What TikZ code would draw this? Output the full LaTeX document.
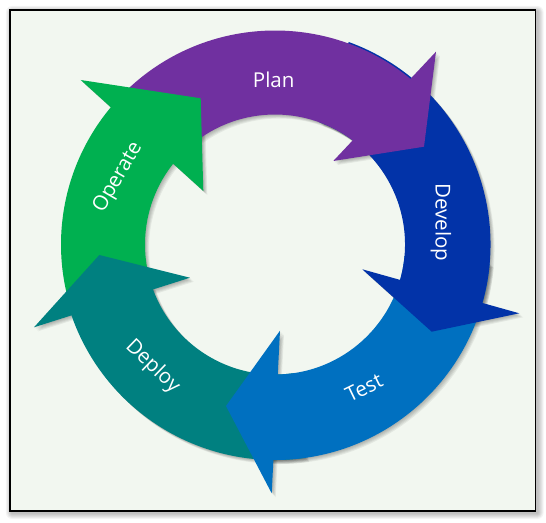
\documentclass[tikz,border=0pt]{standalone}
\usepackage{fontspec}
\setmainfont{Open Sans}
\definecolor{planc}{HTML}{7030A0}
\definecolor{devc}{HTML}{0233A8}
\definecolor{testc}{HTML}{0070C0}
\definecolor{depc}{HTML}{008080}
\definecolor{opc}{HTML}{00B050}
\definecolor{bgc}{HTML}{F2F7F0}
% shaft: tail outer angle, outer end angle, outer radius, inner end angle, inner tail angle
\newcommand{\shaftpath}[5]{(#1:#3) arc[start angle=#1, end angle=#2, radius=#3] -- (#4:130) arc[start angle=#4, end angle=#5, radius=130] -- cycle}
\newcommand{\planshaft}{\shaftpath{136}{49.2}{214}{51.8}{129}}
\newcommand{\devshaft}{\shaftpath{70}{-17.25}{215.5}{-17.3}{70}}
\newcommand{\testshaft}{\shaftpath{-5}{-91.9}{215.5}{-90.3}{-5}}
\newcommand{\depshaft}{\shaftpath{-82}{-162.3}{215.5}{-161.3}{-82}}
\newcommand{\opshaft}{\shaftpath{-164}{-221.4}{214}{-219.9}{-165}}
\newcommand{\planhead}{(161,192.8) -- (149,97.8) -- (58.3,83.5) -- cycle}
\newcommand{\devhead}{(244.3,-68.8) -- (156.7,-87.2) -- (87.3,-24.8) -- cycle}
\newcommand{\testhead}{(-3.3,-248.8) -- (-49,-161.5) -- (5,-86.2) -- cycle}
\newcommand{\dephead}{(-241,-82.8) -- (-175.7,-10.5) -- (-85,-33.2) -- cycle}
\newcommand{\ophead}{(-194.3,164.5) -- (-74.3,146.2) -- (-71.7,53.5) -- cycle}
\begin{document}
\begin{tikzpicture}[x=1pt,y=1pt,
  lbl/.style={text=white, font=\fontsize{20.5}{24}\selectfont, inner sep=0pt},
  frameshadow/.style={black, opacity=0.045},
  arrowshadow/.style={black, opacity=0.06}]
\useasboundingbox (-275,-277.5) rectangle (271,244.5);
\fill[white] (-275,-277.5) rectangle (271,244.5);
% frame shadow
\foreach \i in {1,...,6}
  \fill[frameshadow, rounded corners=\i pt] (-263-\i,-268.5-\i) rectangle (262.5+\i,232.5+\i);
\fill[bgc] (-265,-266.5) rectangle (260.5,234.5);
\draw[black, line width=1.2pt] (-265,-266.5) rectangle (260.5,234.5);
% arrow shadows
\foreach \s in {0.8,1.6,2.4,3.2,4}{
  \begin{scope}[shift={(\s,-\s)}]
    \fill[arrowshadow] \planshaft;  \fill[arrowshadow] \planhead;
    \fill[arrowshadow] \devshaft;   \fill[arrowshadow] \devhead;
    \fill[arrowshadow] \testshaft;  \fill[arrowshadow] \testhead;
    \fill[arrowshadow] \depshaft;   \fill[arrowshadow] \dephead;
    \fill[arrowshadow] \opshaft;    \fill[arrowshadow] \ophead;
  \end{scope}
}
% shafts
\fill[opc] \opshaft;
\fill[depc] \depshaft;
\fill[testc] \testshaft;
\fill[devc] \devshaft;
\fill[planc] \planshaft;
% heads
\fill[planc] \planhead;
\fill[devc] \devhead;
\fill[testc] \testhead;
\fill[depc] \dephead;
\fill[opc] \ophead;
% labels
\node[lbl] (plan) at (-1.3,164.5) {Plan};
\node[lbl, rotate=-90] (develop) at (166,22) {Develop};
\node[lbl, rotate=26] (test) at (89,-143) {Test};
\node[lbl, rotate=-44] (deploy) at (-122.5,-122) {Deploy};
\node[lbl, rotate=60] (operate) at (-156.7,67) {Operate};
\end{tikzpicture}
\end{document}
